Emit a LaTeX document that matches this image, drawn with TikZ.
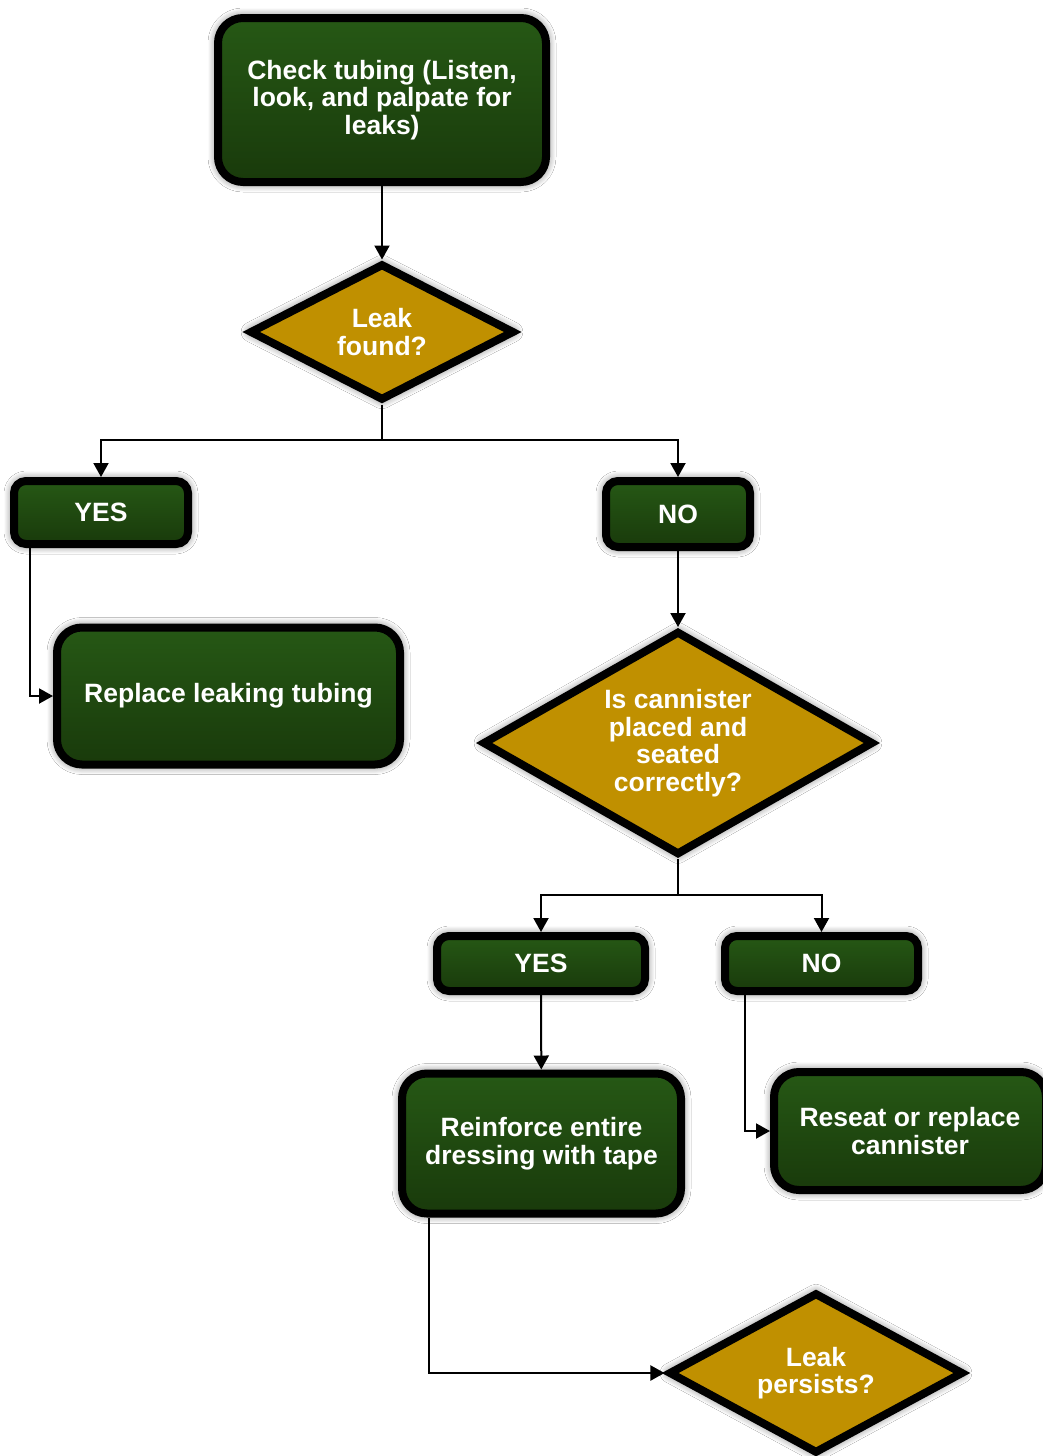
\documentclass[tikz,border=0pt]{standalone}
\usepackage{fontspec}
\setmainfont{Liberation Sans}
\usetikzlibrary{shapes.geometric,arrows.meta,shadows.blur}
\definecolor{gtop}{RGB}{38,88,21}
\definecolor{gbot}{RGB}{25,58,11}
\definecolor{gold}{RGB}{192,144,0}
\tikzset{
  base/.style={draw=black, line width=8pt, text=white, align=center,
    font=\fontsize{26.5}{27.5}\selectfont\bfseries, inner sep=0pt,
    blur shadow={shadow xshift=0pt, shadow yshift=0pt, shadow blur radius=10pt, shadow blur steps=12, shadow scale=1, shadow opacity=70}},
  bigbox/.style={base, rectangle, rounded corners=25pt, top color=gtop, bottom color=gbot},
  smallbox/.style={base, rectangle, rounded corners=12pt, top color=gtop, bottom color=gbot},
  decision/.style={base, diamond, fill=gold},
  arr/.style={draw=black, line width=2pt, -{Triangle[length=14pt,width=15pt]}},
  ln/.style={draw=black, line width=2pt}
}
\begin{document}
\begin{tikzpicture}[x=1pt,y=-1pt]
\useasboundingbox[fill=white] (0,0) rectangle (1042,1456);
% nodes
\node[bigbox, minimum width=328pt, minimum height=164pt] (top) at (382,100) {Check tubing (Listen,\\look, and palpate for\\leaks)};
\node[decision, aspect=1.9, minimum width=265pt, minimum height=137pt] (d1) at (382,332) {Leak\\found?};
\node[smallbox, minimum width=174pt, minimum height=63pt] (yes1) at (101,512.5) {YES};
\node[smallbox, minimum width=144pt, minimum height=66pt] (no1) at (678,514) {NO};
\node[bigbox, minimum width=343pt, minimum height=137pt] (replace) at (228.5,696) {Replace leaking tubing};
\node[decision, aspect=1.75, minimum width=391pt, minimum height=224pt] (d2) at (678,743) {Is cannister\\placed and\\seated\\correctly?};
\node[smallbox, minimum width=208pt, minimum height=55pt] (yes2) at (541,963.5) {YES};
\node[smallbox, minimum width=193pt, minimum height=55pt] (no2) at (821.5,963.5) {NO};
\node[bigbox, minimum width=279pt, minimum height=140pt] (reinforce) at (541.5,1143.5) {Reinforce entire\\dressing with tape};
\node[bigbox, minimum width=272pt, minimum height=118pt] (reseat) at (910,1131) {Reseat or replace\\cannister};
\node[decision, aspect=1.85, minimum width=295pt, minimum height=161pt] (d3) at (816,1373) {Leak\\persists?};
% split points
\coordinate (s1) at (382,440);
\coordinate (s2) at (678,895);
% connectors
\draw[arr] (top) -- (d1);
\draw[ln] (d1.south) -- (s1);
\draw[arr] (s1) -| (yes1);
\draw[arr] (s1) -| (no1);
\draw[arr] ([xshift=20pt]yes1.south west) |- (replace);
\draw[arr] (no1) -- (d2);
\draw[ln] (d2.south) -- (s2);
\draw[arr] (s2) -| (yes2);
\draw[arr] (s2) -| (no2);
\draw[arr] (yes2) -- (reinforce);
\draw[arr] ([xshift=24pt]no2.south west) |- (reseat);
\draw[arr] ([xshift=31pt]reinforce.south west) |- (d3);
\end{tikzpicture}
\end{document}
